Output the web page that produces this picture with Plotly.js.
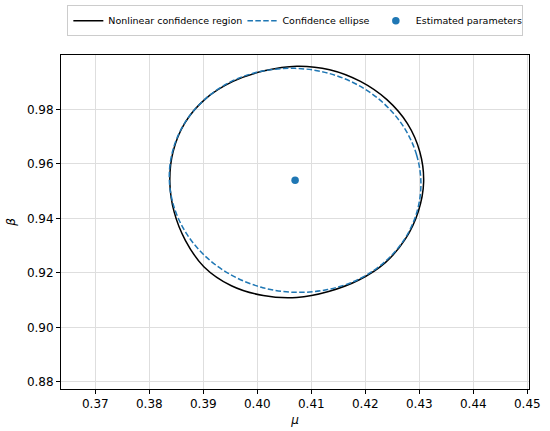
<!DOCTYPE html>
<html>
<head>
<meta charset="utf-8">
<script src="https://cdn.plot.ly/plotly-3.0.1.min.js"></script>
<style>html,body{margin:0;padding:0;background:#fff;}#chart{width:550px;height:431px;}</style>
</head>
<body>
<div id="chart"></div>
<script>
// Nonlinear confidence region
const nonlinearMu = [0.4308,0.4301,0.4278,0.4240,0.4191,0.4134,0.4073,0.4013,0.3955,0.3904,0.3866,0.3844,0.3838,0.3846,0.3867,0.3901,0.3952,0.4011,0.4073,0.4132,0.4188,0.4237,0.4274,0.4298,0.4308];
const nonlinearBeta = [0.9534,0.9644,0.9748,0.9836,0.9903,0.9946,0.9959,0.9942,0.9903,0.9839,0.9751,0.9645,0.9534,0.9424,0.9319,0.9223,0.9153,0.9117,0.9110,0.9132,0.9174,0.9238,0.9324,0.9425,0.9534];
// Confidence ellipse
const ellipseMu = [0.4303,0.4295,0.4272,0.4235,0.4187,0.4130,0.4070,0.4010,0.3953,0.3905,0.3868,0.3845,0.3837,0.3845,0.3868,0.3905,0.3953,0.4010,0.4070,0.4130,0.4187,0.4235,0.4272,0.4295,0.4303];
const ellipseBeta = [0.9526,0.9633,0.9733,0.9821,0.9889,0.9934,0.9951,0.9941,0.9904,0.9841,0.9758,0.9660,0.9554,0.9447,0.9347,0.9259,0.9191,0.9146,0.9129,0.9139,0.9176,0.9239,0.9322,0.9420,0.9526];
// Estimated parameters
const estMu = [0.4070];
const estBeta = [0.9540];
// Tick values
const xTicks = [0.37,0.38,0.39,0.40,0.41,0.42,0.43,0.44,0.45];
const yTicks = [0.88,0.90,0.92,0.94,0.96,0.98];

const font = {family: "DejaVu Sans, sans-serif", size: 12, color: "#000"};

const traces = [
  {x: nonlinearMu, y: nonlinearBeta, mode: "lines", name: "Nonlinear confidence region",
   legendwidth: 0.372,
   line: {color: "#000000", width: 1.5, shape: "spline", smoothing: 1}},
  {x: ellipseMu, y: ellipseBeta, mode: "lines", name: "Confidence ellipse",
   legendwidth: 0.285,
   line: {color: "#1f77b4", width: 1.5, dash: "5.5px,2.4px", shape: "spline", smoothing: 1}},
  {x: estMu, y: estBeta, mode: "markers", name: "Estimated parameters",
   legendwidth: 0.313,
   marker: {color: "#1f77b4", size: 7.5}}
];

const axisCommon = {
  showline: true, linecolor: "#000", linewidth: 1, mirror: true,
  ticks: "outside", ticklen: 4, tickwidth: 1, tickcolor: "#000",
  showgrid: true, gridcolor: "#dedede", gridwidth: 1, zeroline: false,
  tickfont: font
};

const layout = {
  width: 550, height: 431,
  margin: {l: 61, r: 21, t: 55, b: 42},
  paper_bgcolor: "#fff", plot_bgcolor: "#fff",
  font: font,
  showlegend: true,
  legend: {orientation: "h", xref: "container", yref: "container",
    x: 0.537, xanchor: "center", y: 0.988, yanchor: "top",
    entrywidthmode: "fraction", entrywidth: 0.32,
    bordercolor: "#cccccc", borderwidth: 1,
    font: {family: "DejaVu Sans, sans-serif", size: 9.5, color: "#000"},
    itemwidth: 30, tracegroupgap: 0},
  xaxis: Object.assign({}, axisCommon, {
    range: [0.36365, 0.45031], tickvals: xTicks, tickformat: ".2f",
    title: {text: "<i>μ</i>", font: font, standoff: 5}
  }),
  yaxis: Object.assign({}, axisCommon, {
    range: [0.8774, 1.0000], tickvals: yTicks, tickformat: ".2f",
    title: {text: "<i>β</i>", font: font, standoff: 8}
  })
};

Plotly.newPlot("chart", traces, layout, {displayModeBar: false, staticPlot: true});
</script>
</body>
</html>
